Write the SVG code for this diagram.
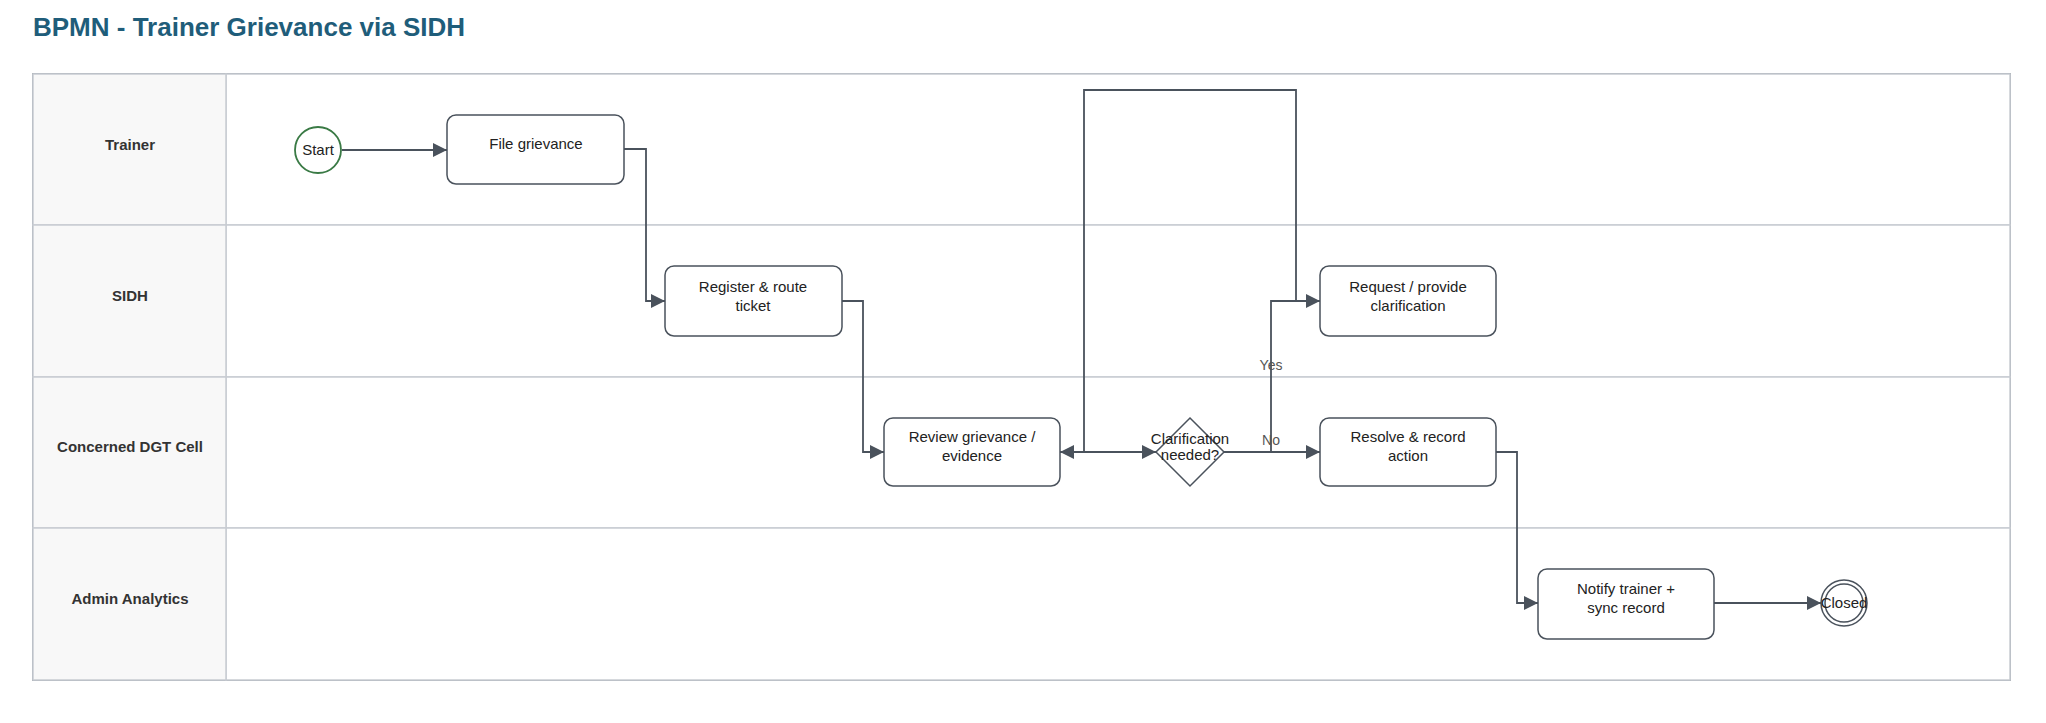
<svg xmlns="http://www.w3.org/2000/svg" width="2046" height="723" viewBox="0 0 2046 723">
<style>
.lane{fill:#fff;stroke:#c8ccd2;stroke-width:1.5}
.hdr{fill:#f8f8f8;stroke:#c8ccd2;stroke-width:1.5}
.lt{font-family:"Liberation Sans",Arial,sans-serif;font-size:15px;font-weight:bold;fill:#333;text-anchor:middle}
.task{fill:#fff;stroke:#4a525c;stroke-width:1.5}
.tt{font-family:"Liberation Sans",Arial,sans-serif;font-size:15px;fill:#222;text-anchor:middle}
.c{fill:none;stroke:#4a525c;stroke-width:1.8}
.lbl{font-family:"Liberation Sans",Arial,sans-serif;font-size:14px;fill:#555;text-anchor:middle}
</style>
<defs>
<marker id="a" viewBox="0 0 10 10" refX="10" refY="5" markerWidth="7" markerHeight="7" markerUnits="userSpaceOnUse" orient="auto" style="overflow:visible"><path d="M0,0L10,5L0,10z" fill="#4a525c"/></marker>
<marker id="ah" viewBox="0 0 10 10" refX="10" refY="5" markerWidth="14" markerHeight="14" markerUnits="userSpaceOnUse" orient="auto"><path d="M0,0L10,5L0,10z" fill="#4a525c"/></marker>
</defs>
<rect width="2046" height="723" fill="#fff"/>
<text x="33" y="36" font-family="Liberation Sans,Arial,sans-serif" font-size="26" font-weight="bold" fill="#1f5d7a">BPMN - Trainer Grievance via SIDH</text>
<g id="pool">
<rect x="33" y="74" width="1977" height="606" fill="none" stroke="#9aa0a8" stroke-width="2"/>
<g id="lane-trainer"><rect class="lane" x="226" y="74" width="1784" height="151"/><rect class="hdr" x="33" y="74" width="193" height="151"/><text class="lt" x="130" y="150">Trainer</text></g>
<g id="lane-sidh"><rect class="lane" x="226" y="225" width="1784" height="152"/><rect class="hdr" x="33" y="225" width="193" height="152"/><text class="lt" x="130" y="301">SIDH</text></g>
<g id="lane-dgt"><rect class="lane" x="226" y="377" width="1784" height="151"/><rect class="hdr" x="33" y="377" width="193" height="151"/><text class="lt" x="130" y="452">Concerned DGT Cell</text></g>
<g id="lane-admin"><rect class="lane" x="226" y="528" width="1784" height="152"/><rect class="hdr" x="33" y="528" width="193" height="152"/><text class="lt" x="130" y="604">Admin Analytics</text></g>
</g>
<g id="connectors">
<path class="c" d="M342,150H447" marker-end="url(#ah)"/>
<path class="c" d="M624,149H646V301H665" marker-end="url(#ah)"/>
<path class="c" d="M842,301H863V452H884" marker-end="url(#ah)"/>
<path class="c" d="M1060,452H1156" marker-end="url(#ah)"/>
<path class="c" d="M1320,301H1296V90H1084V452H1060" marker-end="url(#ah)"/>
<path class="c" d="M1224,452H1320" marker-end="url(#ah)"/>
<path class="c" d="M1271,452V301H1320" marker-end="url(#ah)"/>
<path class="c" d="M1496,452H1517V603H1538" marker-end="url(#ah)"/>
<path class="c" d="M1714,603H1821" marker-end="url(#ah)"/>
<text class="lbl" x="1271" y="370">Yes</text>
<text class="lbl" x="1271" y="445">No</text>
</g>
<g id="start"><circle cx="318" cy="150" r="23" fill="#fff" stroke="#3a7a45" stroke-width="1.8"/><text class="tt" x="318" y="155" font-size="13">Start</text></g>
<g id="file"><rect class="task" x="447" y="115" width="177" height="69" rx="9"/><text class="tt" x="536" y="149">File grievance</text></g>
<g id="register"><rect class="task" x="665" y="266" width="177" height="70" rx="9"/><text class="tt" x="753" y="292">Register &amp; route</text><text class="tt" x="753" y="311">ticket</text></g>
<g id="review"><rect class="task" x="884" y="418" width="176" height="68" rx="9"/><text class="tt" x="972" y="442">Review grievance /</text><text class="tt" x="972" y="461">evidence</text></g>
<g id="gateway"><path d="M1190,418L1224,452L1190,486L1156,452z" fill="#fff" stroke="#4a525c" stroke-width="1.5"/><text class="tt" x="1190" y="444" font-size="12.5">Clarification</text><text class="tt" x="1190" y="460" font-size="12.5">needed?</text></g>
<g id="request"><rect class="task" x="1320" y="266" width="176" height="70" rx="9"/><text class="tt" x="1408" y="292">Request / provide</text><text class="tt" x="1408" y="311">clarification</text></g>
<g id="resolve"><rect class="task" x="1320" y="418" width="176" height="68" rx="9"/><text class="tt" x="1408" y="442">Resolve &amp; record</text><text class="tt" x="1408" y="461">action</text></g>
<g id="notify"><rect class="task" x="1538" y="569" width="176" height="70" rx="9"/><text class="tt" x="1626" y="594">Notify trainer +</text><text class="tt" x="1626" y="613">sync record</text></g>
<g id="closed"><circle cx="1844" cy="603" r="23" fill="#fff" stroke="#4a525c" stroke-width="1.5"/><circle cx="1844" cy="603" r="19" fill="none" stroke="#4a525c" stroke-width="1.5"/><text class="tt" x="1844" y="608" font-size="13">Closed</text></g>
</svg>
